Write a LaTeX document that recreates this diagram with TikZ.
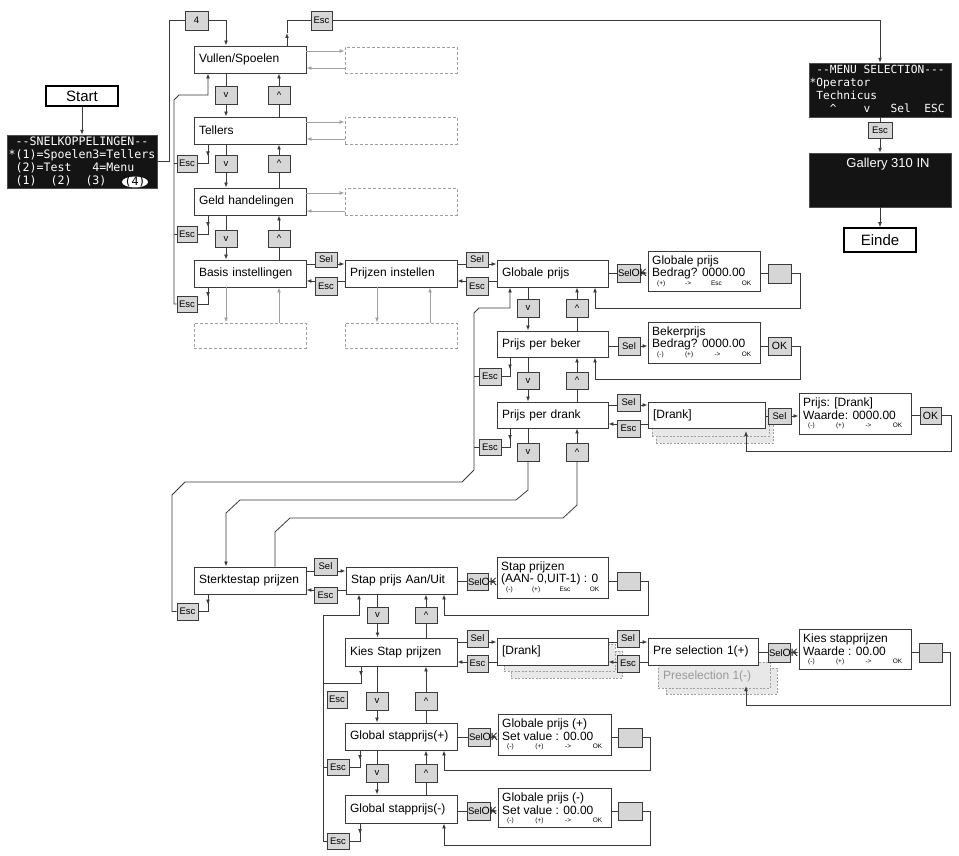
\documentclass[tikz,border=0pt]{standalone}
\usepackage{fontspec}
\setmainfont{Liberation Sans}
\newfontfamily\lcd{DejaVu Sans Mono}
\usetikzlibrary{arrows.meta}
\definecolor{ln}{HTML}{3A3A3A}
\definecolor{gb}{HTML}{D6D6D6}
\definecolor{dsh}{HTML}{A0A0A0}
\definecolor{blk}{HTML}{141414}
\newcommand\hy{-\kern0pt\relax}
\tikzset{
 conn/.style={draw=ln, line width=0.8pt},
 arr/.style={conn, -{Latex[length=5pt,width=3.8pt]}},
 garr/.style={draw=dsh, line width=0.8pt, -{Latex[length=5pt,width=3.8pt]}},
 mainbox/.style={draw=ln, fill=white, line width=0.9pt, inner xsep=5pt, inner ysep=0pt, align=left, font=\fontsize{12}{13}\selectfont},
 smallbox/.style={draw=ln, fill=gb, line width=0.8pt, inner sep=0pt, font=\fontsize{9.5}{10}\selectfont},
 okbox/.style={smallbox, font=\fontsize{10.5}{11}\selectfont},
 dispbox/.style={draw=ln, fill=white, line width=0.9pt, inner sep=0pt},
 phbox/.style={draw=dsh, line width=0.8pt, dash pattern=on 3pt off 2pt, inner sep=0pt},
 shadbox/.style={draw=dsh, fill=black!9, line width=0.6pt, dash pattern=on 2pt off 1.5pt, inner sep=0pt},
 blackbox/.style={draw=black!70, fill=blk, inner sep=0pt},
 termbox/.style={draw=black, line width=1.6pt, fill=white, inner sep=0pt, font=\fontsize{15}{16}\selectfont},
 dline/.style={anchor=west, inner sep=0pt, font=\fontsize{12}{13}\selectfont},
 sline/.style={anchor=west, inner sep=0pt, font=\fontsize{6.5}{7}\selectfont},
 mono/.style={anchor=north west, inner sep=0pt, align=left, text=white, font=\lcd\fontsize{11.6}{13}\selectfont},
}
% generic box by corners, centred text
\newcommand\RB[7][]{%
  \pgfmathsetmacro\nbW{#5-#3}\pgfmathsetmacro\nbH{#6-#4}%
  \pgfmathsetmacro\nbX{(#3+#5)/2}\pgfmathsetmacro\nbY{(#4+#6)/2}%
  \node[minimum width=\nbW pt,minimum height=\nbH pt,#1] (#2) at (\nbX,\nbY) {#7};}
% menu box by corners, left text
\newcommand\NB[6]{%
  \pgfmathsetmacro\nbW{#4-#2-10}\pgfmathsetmacro\nbH{#5-#3}%
  \pgfmathsetmacro\nbX{(#2+#4)/2}\pgfmathsetmacro\nbY{(#3+#5)/2}%
  \node[mainbox,text width=\nbW pt,minimum height=\nbH pt] (#1) at (\nbX,\nbY) {\mbox{#6}};}
% display box
\newcommand\DB[8]{%
  \RB[dispbox]{#1}{#2}{#3}{#4}{#5}{}%
  \node[dline] (#1a) at (#2+4,#3+10) {#6};%
  \node[dline] (#1b) at (#2+4,#3+22) {#7};%
  \pgfmathsetmacro\nbW{#4-#2-18}%
  \node[sline,text width=\nbW pt] (#1c) at (#2+9,#3+33) {#8};}
% Sel/OK box
\newcommand\SO[5]{%
  \RB[smallbox]{#1}{#2}{#3}{#4}{#5}{}%
  \node[anchor=west,inner sep=0pt,font=\fontsize{9.5}{10}\selectfont] (#1t) at ([xshift=1.2pt]#1.west) {Sel\fontsize{10.5}{11}\selectfont OK};}
% Sel / Esc pair between two nodes
\newcommand\SE[6]{%
  \draw[conn] (#1.east |- 0,#5) -- (#3.west |- 0,#5);
  \draw[arr] (#3.east |- 0,#5) -- (#2.west |- 0,#5);
  \draw[conn] (#2.west |- 0,#6) -- (#4.east |- 0,#6);
  \draw[arr] (#4.west |- 0,#6) -- (#1.east |- 0,#6);}
% v / ^ pair between upper and lower node
\newcommand\VU[4]{%
  \draw[conn] (#3.north |- #1.south) -- (#3.north);
  \draw[arr] (#3.south) -- (#3.south |- #2.north);
  \draw[conn] (#4.south |- #2.north) -- (#4.south);
  \draw[arr] (#4.north) -- (#4.north |- #1.south);}
% placeholder arrows
\newcommand\PH[4]{%
  \draw[garr] (#1.east |- 0,#3) -- (#2.west |- 0,#3);
  \draw[garr] (#2.west |- 0,#4) -- (#1.east |- 0,#4);}
% Esc drop: node, corner coordinate, esc box
\newcommand\ED[3]{%
  \draw[arr,shorten >=7pt] (#2 |- #1.south) -- (#2);
  \draw[conn] (#2 |- #1.south) -- (#2) -- (#3.east);}
\begin{document}
\begin{tikzpicture}[x=1pt,y=-1pt]
\useasboundingbox (0,0) rectangle (959,856);
\fill[white] (0,0) rectangle (959,856);

% ---------- start ----------
\RB[termbox]{start}{46}{86}{118}{106}{Start}
\RB[blackbox]{snelk}{7}{135}{157}{188}{}
\node[mono] (snelkt) at (8.5,136.5) {~\hy\hy SNELKOPPELINGEN\hy\hy\\{}*(1)=Spoelen3=Tellers\\~(2)=Test~~~4=Menu\\~(1)~~(2)~~(3)};
\fill[white] (135,182) ellipse [x radius=13pt, y radius=5.5pt];
\node[mono, anchor=center, text=black] (snelk4) at (135,182) {(4)};
\draw[arr] (start) -- (snelk);

% ---------- menu selection ----------
\RB[blackbox]{menu}{809}{63}{951}{117}{}
\node[mono, font=\lcd\fontsize{11.2}{13.3}\selectfont] (menut) at (809.5,64.5) {~\hy\hy MENU~SELECTION\hy\hy\hy\\{}*Operator\\~Technicus\\~~~\textasciicircum~~~~v~~~Sel~~ESC};
\RB[smallbox]{escM}{868}{122}{892}{138}{Esc}
\RB[blackbox]{gal}{809}{153}{951}{207}{}
\node[text=white, font=\fontsize{13}{14}\selectfont] (galt) at (888,164) {Gallery 310 IN};
\RB[termbox]{einde}{844}{228}{916}{252}{Einde}
\draw[conn] (menu.south) -- (escM.north);
\draw[arr] (escM.south) -- (gal.north);
\draw[arr] (gal.south) -- (einde.north);

% ---------- main column ----------
\RB[smallbox]{four}{185}{11}{208}{30}{4}
\RB[smallbox]{escT}{311}{11}{332}{30}{Esc}
\NB{vul}{194}{46}{306}{73}{Vullen/Spoelen}
\NB{tel}{194}{117}{306}{144}{Tellers}
\NB{geld}{194}{188}{306}{215}{Geld handelingen}
\NB{bas}{194}{260}{306}{287}{Basis instellingen}
\RB[smallbox]{v1}{215}{86}{237}{104}{v}
\RB[smallbox]{u1}{268}{86}{290}{104}{\textasciicircum}
\RB[smallbox]{v2}{215}{155}{237}{172}{v}
\RB[smallbox]{u2}{268}{155}{290}{172}{\textasciicircum}
\RB[smallbox]{v3}{215}{230}{237}{247}{v}
\RB[smallbox]{u3}{268}{230}{290}{247}{\textasciicircum}
\VU{vul}{tel}{v1}{u1}
\VU{tel}{geld}{v2}{u2}
\VU{geld}{bas}{v3}{u3}

% placeholders
\RB[phbox]{ph1}{345}{47}{457}{73}{}
\RB[phbox]{ph2}{345}{117}{457}{144}{}
\RB[phbox]{ph3}{345}{188}{457}{215}{}
\RB[phbox]{ph4}{194}{323}{306}{348}{}
\RB[phbox]{ph5}{345}{323}{457}{348}{}
\PH{vul}{ph1}{51}{68}
\PH{tel}{ph2}{122}{139}
\PH{geld}{ph3}{193}{211}
\draw[garr] (v3 |- bas.south) -- (v3 |- ph4.north);
\draw[garr] (u3 |- ph4.north) -- (u3 |- bas.south);

% top loops
\coordinate (c4) at (169,20.5);
\draw[conn] (snelk.east) -| (c4) -- (four.west);
\draw[arr] (four.east) -| (v1 |- vul.north);
\coordinate (cE) at (287,20.5);
\draw[arr] (cE |- vul.north) -- (287,33);
\draw[conn] (287,33) -- (cE) -- (escT.west);
\draw[arr] (escT.east) -| (menu.north);

% left esc chain
\RB[smallbox]{escTel}{177}{155}{197}{172}{Esc}
\RB[smallbox]{escGeld}{177}{226}{197}{242}{Esc}
\RB[smallbox]{escBas}{177}{296}{197}{312}{Esc}
\coordinate (kTel) at (208,163.5);
\coordinate (kGeld) at (208,234);
\coordinate (kBas) at (208,304);
\coordinate (lv) at (174,95);
\ED{tel}{kTel}{escTel}
\ED{geld}{kGeld}{escGeld}
\ED{bas}{kBas}{escBas}
\draw[arr] (escBas.west) -- (lv |- escBas.west) -- (174,100) -- (179,95) -- (kTel |- lv) -- (kTel |- vul.south);
\draw[conn] (escTel.west) -- (lv |- escTel.west);
\draw[conn] (escGeld.west) -- (lv |- escGeld.west);

% ---------- prijzen ----------
\NB{prz}{345}{260}{457}{287}{Prijzen instellen}
\RB[smallbox]{sel1}{315}{252}{337}{267}{Sel}
\RB[smallbox]{esc1}{315}{277}{337}{295}{Esc}
\SE{bas}{prz}{sel1}{esc1}{264}{281}
\coordinate (xp1) at (377,0);
\coordinate (xp2) at (430,0);
\draw[garr] (xp1 |- prz.south) -- (xp1 |- ph5.north);
\draw[garr] (xp2 |- ph5.north) -- (xp2 |- prz.south);

\NB{gp}{497}{260}{608}{287}{Globale prijs}
\RB[smallbox]{sel2}{466}{252}{488}{267}{Sel}
\RB[smallbox]{esc2}{466}{277}{488}{295}{Esc}
\SE{prz}{gp}{sel2}{esc2}{264}{281}

% globale prijs row
\SO{so1}{617}{264}{640}{282}
\DB{dpa}{648}{251}{760}{291}{Globale prijs}{Bedrag? 0000.00}{(+)\hfill->\hfill Esc\hfill OK}
\RB[smallbox]{gba}{768}{264}{791}{283}{}
\draw[conn] (gp.east |- so1) -- (so1.west);
\draw[arr] (so1.east) -- (so1.east -| dpa.west);
\draw[conn] (dpa.east |- gba) -- (gba.west);
\coordinate (ra) at (800,308);
\coordinate (la) at (595,308);
\draw[arr] (gba.east) -| (ra) -- (la) -- (la |- gp.south);

% beker row
\NB{pb}{497}{331}{608}{357}{Prijs per beker}
\RB[smallbox]{sb}{618}{337}{640}{355}{Sel}
\DB{dpb}{648}{322}{760}{363}{Bekerprijs}{Bedrag? 0000.00}{(-)\hfill(+)\hfill->\hfill OK}
\RB[okbox]{okb}{768}{337}{791}{355}{OK}
\draw[conn] (pb.east |- sb) -- (sb.west);
\draw[arr] (sb.east) -- (sb.east -| dpb.west);
\draw[conn] (dpb.east |- okb) -- (okb.west);
\coordinate (rb) at (800,379);
\coordinate (lb) at (595,379);
\draw[arr] (okb.east) -| (rb) -- (lb) -- (lb |- pb.south);

% drank row
\NB{pd}{497}{402}{608}{428}{Prijs per drank}
\RB[smallbox]{sd}{617}{394}{640}{411}{Sel}
\RB[smallbox]{ed}{617}{420}{640}{437}{Esc}
\RB[shadbox]{dr1s2}{656}{416}{773}{443}{}
\RB[shadbox]{dr1s1}{652}{409}{769}{436}{}
\NB{dr1}{648}{402}{765}{428}{[Drank]}
\SE{pd}{dr1}{sd}{ed}{405}{424}
\RB[smallbox]{s3}{768}{408}{791}{424}{Sel}
\DB{dpc}{799}{393}{911}{434}{Prijs: [Drank]}{Waarde: 0000.00}{(-)\hfill(+)\hfill->\hfill OK}
\RB[okbox]{okc}{920}{407}{941}{424}{OK}
\draw[conn] (dr1.east |- s3) -- (s3.west);
\draw[arr] (s3.east) -- (s3.east -| dpc.west);
\draw[conn] (dpc.east |- okc) -- (okc.west);
\coordinate (rc) at (951,451);
\coordinate (lc) at (746,451);
\coordinate (tc) at (746,431);
\draw[arr] (okc.east) -| (rc) -- (lc) -- (tc);

% v / ^ of globale prijs column
\RB[smallbox]{v9}{517}{299}{539}{317}{v}
\RB[smallbox]{u9}{566}{299}{588}{317}{\textasciicircum}
\RB[smallbox]{v10}{517}{372}{539}{389}{v}
\RB[smallbox]{u10}{566}{372}{588}{389}{\textasciicircum}
\RB[smallbox]{v11}{517}{443}{539}{461}{v}
\RB[smallbox]{u11}{566}{443}{588}{461}{\textasciicircum}
\VU{gp}{pb}{v9}{u9}
\VU{pb}{pd}{v10}{u10}
\draw[conn] (v11 |- pd.south) -- (v11.north);
\draw[arr] (u11.north) -- (u11 |- pd.south);

% esc of beker / drank
\RB[smallbox]{escB}{479}{368}{501}{385}{Esc}
\RB[smallbox]{escD}{479}{439}{501}{455}{Esc}
\coordinate (kB) at (510,376.5);
\coordinate (kD) at (510,447);
\ED{pb}{kB}{escB}
\ED{pd}{kD}{escD}
\coordinate (lAx) at (474,0);
\draw[conn] (escB.west) -- (escB.west -| lAx);
\draw[conn] (escD.west) -- (escD.west -| lAx);

% ---------- sterktestap ----------
\NB{sk}{194}{567}{306}{594}{Sterktestap prijzen}
\RB[smallbox]{escS}{177}{603}{198}{620}{Esc}
\coordinate (kS) at (208,611.5);
\ED{sk}{kS}{escS}
% long loops
\draw[arr] (escS.west) -- (172,611.5) -- (172,495) -- (185,482) -- (462,482) -- (474,470) -- (474,313) -- (479,308) -- (510,308) -- (kB |- gp.south);
\coordinate (kv) at (226,513);
\draw[arr] (v11.south) -- (528,490) -- (516,500) -- (240,500) -- (kv) -- (kv |- sk.north);
\coordinate (ku) at (275,532);
\draw[conn] (ku |- sk.north) -- (ku) -- (290,518) -- (563,518) -- (577,505) -- (u11.south);

\NB{sa}{346}{567}{457}{594}{Stap prijs Aan/Uit}
\RB[smallbox]{sel5}{314}{558}{337}{575}{Sel}
\RB[smallbox]{esc5}{314}{587}{337}{603}{Esc}
\SE{sk}{sa}{sel5}{esc5}{571}{590}
\SO{so5}{467}{573}{488}{590}
\DB{dpd}{497}{557}{608}{598}{Stap prijzen}{(AAN- 0,UIT-1) : 0}{(-)\hfill(+)\hfill Esc\hfill OK}
\RB[smallbox]{gbd}{617}{572}{640}{590}{}
\draw[conn] (sa.east |- so5) -- (so5.west);
\draw[arr] (so5.east) -- (so5.east -| dpd.west);
\draw[conn] (dpd.east |- gbd) -- (gbd.west);
\coordinate (rd) at (648,615);
\coordinate (ld) at (444,615);
\draw[arr] (gbd.east) -| (rd) -- (ld) -- (ld |- sa.south);

% kies stap prijzen
\NB{ks}{345}{638}{457}{666}{Kies Stap prijzen}
\RB[smallbox]{v5}{367}{607}{388}{623}{v}
\RB[smallbox]{u5}{415}{607}{437}{623}{\textasciicircum}
\VU{sa}{ks}{v5}{u5}
\RB[smallbox]{sel6}{467}{630}{488}{647}{Sel}
\RB[smallbox]{esc6}{467}{655}{488}{672}{Esc}
\RB[shadbox]{dr2s2}{511}{651}{622}{678}{}
\RB[shadbox]{dr2s1}{504}{644}{615}{671}{}
\NB{dr2}{497}{638}{608}{665}{[Drank]}
\SE{ks}{dr2}{sel6}{esc6}{642}{662}
\RB[shadbox]{pms}{666}{668}{777}{694}{}
\RB[shadbox]{pm}{658}{662}{770}{688}{}
\node[dline, text=black!40] (pmt) at (663,676) {Preselection 1(-)};
\NB{pre}{648}{638}{758}{665}{Pre selection 1(+)}
\RB[smallbox]{sel7}{617}{630}{639}{647}{Sel}
\RB[smallbox]{esc7}{617}{655}{639}{672}{Esc}
\SE{dr2}{pre}{sel7}{esc7}{642}{662}
\SO{so8}{768}{643}{790}{662}
\DB{dpe}{799}{629}{911}{669}{Kies stapprijzen}{Waarde : 00.00}{(-)\hfill(+)\hfill->\hfill OK}
\RB[smallbox]{gbe}{919}{643}{942}{662}{}
\draw[conn] (pre.east |- so8) -- (so8.west);
\draw[arr] (so8.east) -- (so8.east -| dpe.west);
\draw[conn] (dpe.east |- gbe) -- (gbe.west);
\coordinate (re) at (950,705);
\coordinate (le) at (746,705);
\coordinate (te) at (746,686);
\draw[arr] (gbe.east) -| (re) -- (le) -- (te);

% global stapprijs rows
\NB{gq}{345}{723}{457}{750}{Global stapprijs(+)}
\NB{gm}{345}{795}{457}{823}{Global stapprijs(-)}
\RB[smallbox]{v6}{366}{692}{388}{710}{v}
\RB[smallbox]{u6}{415}{692}{437}{710}{\textasciicircum}
\RB[smallbox]{v7}{366}{764}{388}{782}{v}
\RB[smallbox]{u7}{415}{764}{437}{782}{\textasciicircum}
\VU{ks}{gq}{v6}{u6}
\VU{gq}{gm}{v7}{u7}

\SO{so9}{468}{728}{490}{746}
\DB{dpf}{498}{714}{611}{755}{Globale prijs (+)}{Set value : 00.00}{(-)\hfill(+)\hfill->\hfill OK}
\RB[smallbox]{gbf}{618}{728}{642}{747}{}
\draw[conn] (gq.east |- so9) -- (so9.west);
\draw[arr] (so9.east) -- (so9.east -| dpf.west);
\draw[conn] (dpf.east |- gbf) -- (gbf.west);
\coordinate (rf) at (650,770);
\coordinate (lf) at (444,770);
\draw[arr] (gbf.east) -| (rf) -- (lf) -- (lf |- gq.south);

\SO{so10}{467}{802}{490}{820}
\DB{dpg}{498}{788}{611}{827}{Globale prijs (-)}{Set value : 00.00}{(-)\hfill(+)\hfill->\hfill OK}
\RB[smallbox]{gbg}{618}{802}{642}{820}{}
\draw[conn] (gm.east |- so10) -- (so10.west);
\draw[arr] (so10.east) -- (so10.east -| dpg.west);
\draw[conn] (dpg.east |- gbg) -- (gbg.west);
\coordinate (rg) at (650,845);
\coordinate (lg) at (444,845);
\draw[arr] (gbg.east) -| (rg) -- (lg) -- (lg |- gm.south);

% lower esc chain
\RB[smallbox]{escK}{327}{691}{347}{708}{Esc}
\RB[smallbox]{escP}{327}{759}{349}{775}{Esc}
\RB[smallbox]{escN}{327}{833}{349}{849}{Esc}
\coordinate (kK) at (361,683);
\coordinate (kP) at (360,767);
\coordinate (kN) at (360,841);
\coordinate (kL) at (323,615);
\coordinate (kLa) at (359,615);
\draw[arr,shorten >=7pt] (kK |- ks.south) -- (kK);
\draw[conn] (kK |- ks.south) -- (kK) -- (kK -| kL);
\ED{gq}{kP}{escP}
\ED{gm}{kN}{escN}
\draw[arr] (escN.west) -- (kL |- escN.west) -- (kL) -- (kLa) -- (kLa |- sa.south);
\draw[conn] (escP.west) -- (kL |- escP.west);
\end{tikzpicture}
\end{document}
